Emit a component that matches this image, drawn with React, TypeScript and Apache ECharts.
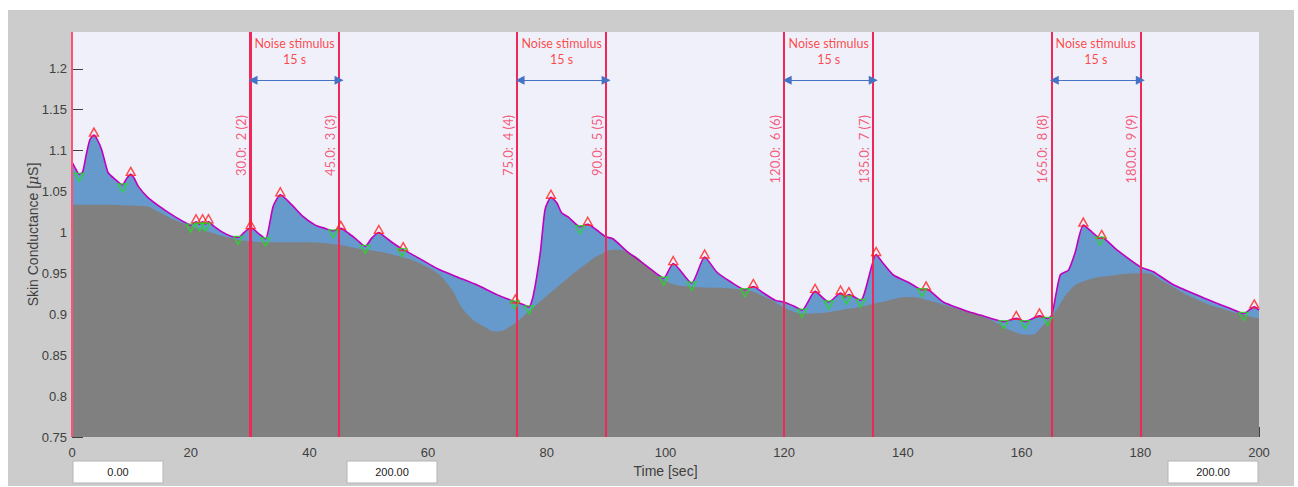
import { useEffect, useRef } from "react";
import * as echarts from "echarts";

// Skin conductance signal [time s, value µS]
const signal: [number, number][] = [
  [0, 1.086], [0.6, 1.078], [1.2, 1.071], [1.8, 1.074], [2.4, 1.095], [3.0, 1.113], [3.7, 1.119],
  [4.3, 1.113], [5.0, 1.101], [5.6, 1.085], [6.1, 1.073], [7.25, 1.065], [8.5, 1.058], [9.2, 1.066],
  [9.9, 1.071], [10.5, 1.066], [11.2, 1.056], [12.9, 1.042], [15.1, 1.03], [17.4, 1.019], [19.6, 1.01],
  [20.0, 1.009], [20.9, 1.013], [21.5, 1.01], [22.0, 1.013], [22.5, 1.01], [23.0, 1.013], [24.0, 1.007],
  [25.2, 1.001], [26.9, 0.995], [28.0, 0.994], [29.0, 1.0], [30.1, 1.006], [31.4, 0.999], [32.6, 0.992],
  [33.9, 1.032], [35.1, 1.046], [37.0, 1.034], [38.7, 1.021], [41.0, 1.009], [42.6, 1.005], [44.0, 1.002],
  [45.3, 1.005], [46.6, 0.999], [48.0, 0.991], [49.4, 0.983], [50.5, 0.993], [51.7, 1.0], [53.0, 0.993],
  [54.5, 0.985], [55.8, 0.979], [58.6, 0.968], [61.5, 0.956], [64.8, 0.946], [68.2, 0.936], [71.6, 0.924],
  [74.7, 0.915], [76.0, 0.912], [77.0, 0.909], [77.7, 0.922], [78.9, 0.975], [79.7, 1.028], [80.7, 1.043],
  [81.7, 1.036], [82.5, 1.024], [83.6, 1.019], [85.6, 1.007], [86.9, 1.01], [88.4, 1.003], [89.9, 0.995],
  [91.2, 0.992], [93.5, 0.977], [96.3, 0.962], [98.8, 0.948], [99.7, 0.944], [101.3, 0.962], [104.4, 0.938],
  [106.6, 0.97], [108.6, 0.952], [110.9, 0.94], [113.4, 0.93], [114.8, 0.934], [116.5, 0.926], [118.5, 0.917],
  [119.9, 0.915], [121.6, 0.91], [123.0, 0.905], [125.2, 0.928], [127.5, 0.915], [129.5, 0.926], [130.2, 0.921],
  [130.9, 0.924], [132.9, 0.917], [135.5, 0.973], [136.7, 0.962], [138.4, 0.948], [141.2, 0.938], [143.2, 0.93],
  [143.9, 0.931], [146.8, 0.915], [151.1, 0.903], [153.0, 0.899], [157.0, 0.891], [159.1, 0.895], [160.6, 0.891],
  [163.0, 0.898], [164.4, 0.895], [165.1, 0.899], [166.5, 0.948], [167.9, 0.954], [169.0, 0.975], [170.4, 1.009],
  [172.1, 0.999], [173.2, 0.993], [173.5, 0.994], [176.0, 0.979], [180.0, 0.958], [182.2, 0.952], [185.6, 0.936],
  [190.7, 0.92], [195.2, 0.907], [197.4, 0.901], [199.2, 0.909], [200, 0.905],
];

// Tonic (baseline) component
const tonic: [number, number][] = [
  [0, 1.034], [5, 1.034], [10, 1.033], [12.5, 1.032], [14, 1.0275], [17.4, 1.015], [21.3, 1.005],
  [25.2, 0.996], [29.2, 0.99], [34, 0.988], [38.1, 0.988], [43.8, 0.986], [48.5, 0.98], [54.2, 0.9725],
  [59.8, 0.958], [63.2, 0.938], [66.5, 0.901], [69.9, 0.883], [71.6, 0.879], [73.8, 0.885], [77.2, 0.905],
  [82.2, 0.936], [86.7, 0.962], [89.5, 0.975], [91.5, 0.979], [94.6, 0.9725], [97.4, 0.955], [100.8, 0.938],
  [104.2, 0.934], [113.1, 0.93], [117.1, 0.92], [121.0, 0.905], [123.8, 0.901], [131.1, 0.907], [136.7, 0.9154],
  [141.2, 0.921], [144.0, 0.9175], [148.0, 0.909], [151.1, 0.903], [155.4, 0.891], [158.6, 0.879], [161.5, 0.875],
  [163.7, 0.887], [165.1, 0.897], [168.2, 0.93], [170.4, 0.94], [174.9, 0.947], [181.1, 0.95], [183.4, 0.942],
  [189.0, 0.92], [194.6, 0.905], [200, 0.895],
];

const peaks: [number, number][] = [
  [3.7, 1.119], [9.9, 1.071], [20.9, 1.013], [22.0, 1.013], [23.0, 1.013], [30.1, 1.006], [35.1, 1.046],
  [45.3, 1.005], [51.7, 1.0], [55.8, 0.979], [74.7, 0.915], [80.7, 1.043], [86.9, 1.01], [101.3, 0.962],
  [106.6, 0.97], [114.8, 0.934], [125.2, 0.928], [129.5, 0.926], [130.9, 0.924], [135.5, 0.973], [143.9, 0.931],
  [159.1, 0.895], [163.0, 0.898], [170.4, 1.009], [173.5, 0.994], [199.2, 0.909],
];

const onsets: [number, number][] = [
  [1.2, 1.071], [8.5, 1.058], [20.0, 1.009], [21.5, 1.01], [22.5, 1.01], [28.0, 0.994], [32.6, 0.992],
  [44.0, 1.002], [49.4, 0.983], [55.6, 0.979], [74.6, 0.915], [77.0, 0.909], [85.6, 1.007], [99.7, 0.944],
  [104.4, 0.938], [113.4, 0.93], [123.0, 0.905], [127.5, 0.915], [130.5, 0.921], [132.9, 0.917], [143.2, 0.93],
  [157.0, 0.891], [160.6, 0.891], [164.4, 0.895], [173.2, 0.993], [197.4, 0.901],
];

const eventTimes = [30, 45, 75, 90, 120, 135, 165, 180];
const eventLabels = [
  "30.0:  2 (2)", "45.0:  3 (3)", "75.0:  4 (4)", "90.0:  5 (5)",
  "120.0:  6 (6)", "135.0:  7 (7)", "165.0:  8 (8)", "180.0:  9 (9)",
];
const stimulusStarts = [30, 75, 120, 165];
const stimulusDuration = 15;
const stimulusText = "Noise stimulus\n15 s";
const boxTexts = ["0.00", "200.00", "200.00"];

const Y_MIN = 0.75;
const Y_MAX = 1.245;
const LABEL_Y = 1.1436;
const STIM_TEXT_Y = 1.2207;
const ARROW_Y = 1.186;

export default function App() {
  const ref = useRef<HTMLDivElement>(null);
  useEffect(() => {
    if (!ref.current) return;
    const chart = echarts.init(ref.current, null, { renderer: "svg" });
    const axisText = { color: "#404040", fontSize: 13, fontFamily: "Liberation Sans, Arial, sans-serif" };
    const boxX = [65, 339, 1160];
    chart.setOption({
      animation: false,
      backgroundColor: "#cccccc",
      grid: {
        left: 64, top: 22, width: 1187, height: 405,
        show: true, backgroundColor: "#f0f0fa", borderWidth: 0,
      },
      xAxis: {
        type: "value", min: 0, max: 200, interval: 20,
        axisLine: { show: false },
        axisTick: { show: true, inside: true, length: 10, lineStyle: { color: "#404040" } },
        splitLine: { show: false },
        axisLabel: { ...axisText, margin: 9 },
        name: "Time [sec]", nameLocation: "middle", nameGap: 26,
        nameTextStyle: { ...axisText, fontSize: 14 },
      },
      yAxis: {
        type: "value", min: Y_MIN, max: Y_MAX, interval: 0.05,
        axisLine: { show: false },
        axisTick: { show: true, inside: true, length: 11, lineStyle: { color: "#404040" } },
        splitLine: { show: false },
        axisLabel: { ...axisText, margin: 5, showMaxLabel: false,
          formatter: (v: number) => (Math.abs(v - Y_MAX) < 1e-6 ? "" : String(+v.toFixed(2))) },
        name: "{a|Skin Conductance [}{b|\u03bc}{a|S]}", nameLocation: "middle", nameGap: 32,
        nameMoveOverlap: false,
        nameTextStyle: {
          ...axisText, fontSize: 14,
          rich: {
            a: { ...axisText, fontSize: 14 },
            b: { ...axisText, fontSize: 14, fontStyle: "italic", fontFamily: "DejaVu Serif, serif" },
          },
        },
      },
      graphic: boxX.map((x, i) => ({
        type: "group", x, y: 451,
        children: [
          { type: "rect", shape: { x: 0, y: 0, width: 90, height: 22 },
            style: { fill: "#ffffff", stroke: "#b4b4b4", lineWidth: 1 } },
          { type: "text", x: 45, y: 11,
            style: { text: boxTexts[i], fill: "#222", font: "11px Liberation Sans, Arial, sans-serif",
              textAlign: "center", textVerticalAlign: "middle" } },
        ],
      })),
      series: [
        {
          type: "line", data: signal, symbol: "none", smooth: 0.2, z: 1,
          lineStyle: { width: 0 },
          areaStyle: { color: "#6699cc", opacity: 1, origin: "start" },
          silent: true,
        },
        {
          type: "line", data: tonic, symbol: "none", smooth: 0.5, z: 2,
          lineStyle: { width: 0 },
          areaStyle: { color: "#808080", opacity: 1, origin: "start" },
          silent: true,
        },
        {
          type: "line", data: signal, symbol: "none", smooth: 0.2, z: 3,
          lineStyle: { color: "#c000c0", width: 1.6 },
          silent: true,
        },
        {
          type: "scatter", z: 4, symbolSize: 0,
          data: eventTimes.map((t) => [t, LABEL_Y]),
          label: {
            show: true, position: [-9, 0], rotate: 90, align: "right", verticalAlign: "middle",
            color: "#f5365c", fontSize: 13, fontFamily: "Lato, sans-serif",
            formatter: (p: any) => eventLabels[p.dataIndex],
          },
          markLine: {
            silent: true, symbol: "none", animation: false,
            label: { show: false },
            data: [
              { xAxis: 0, lineStyle: { color: "#ff5078", width: 2, type: "solid" } },
              ...eventTimes.map((t) => ({
                xAxis: t,
                lineStyle: { color: "#f0285a", width: t === 30 ? 3 : 2, type: "solid" },
              })),
            ],
          },
        },
        {
          type: "scatter", z: 5, symbolSize: 0,
          data: stimulusStarts.map((t) => [t + stimulusDuration / 2, STIM_TEXT_Y]),
          label: {
            show: true, position: "inside", color: "#ff1a1a", fontSize: 12.5, lineHeight: 16,
            fontFamily: "Lato, sans-serif", formatter: () => stimulusText,
          },
          markLine: {
            silent: true, symbol: ["triangle", "triangle"], symbolSize: [9, 9], animation: false,
            label: { show: false },
            lineStyle: { color: "#4472c4", width: 1.2, type: "solid" },
            data: stimulusStarts.map((t) => [
              { coord: [t + 0.5, ARROW_Y] },
              { coord: [t + stimulusDuration, ARROW_Y] },
            ]),
          },
        },
        {
          type: "scatter", z: 6, data: peaks, symbol: "triangle", symbolSize: [9, 8],
          symbolOffset: [0, -3],
          itemStyle: { color: "rgba(0,0,0,0)", borderColor: "#ff2020", borderWidth: 1.4 },
          silent: true,
        },
        {
          type: "scatter", z: 6, data: onsets, symbol: "triangle", symbolRotate: 180, symbolSize: [9, 8],
          symbolOffset: [0, 3],
          itemStyle: { color: "rgba(0,0,0,0)", borderColor: "#22dd22", borderWidth: 1.4 },
          silent: true,
        },
      ],
    });
    return () => chart.dispose();
  }, []);
  return (
    <div
      ref={ref}
      style={{ position: "absolute", left: 8, top: 10, width: 1286, height: 476 }}
    />
  );
}
